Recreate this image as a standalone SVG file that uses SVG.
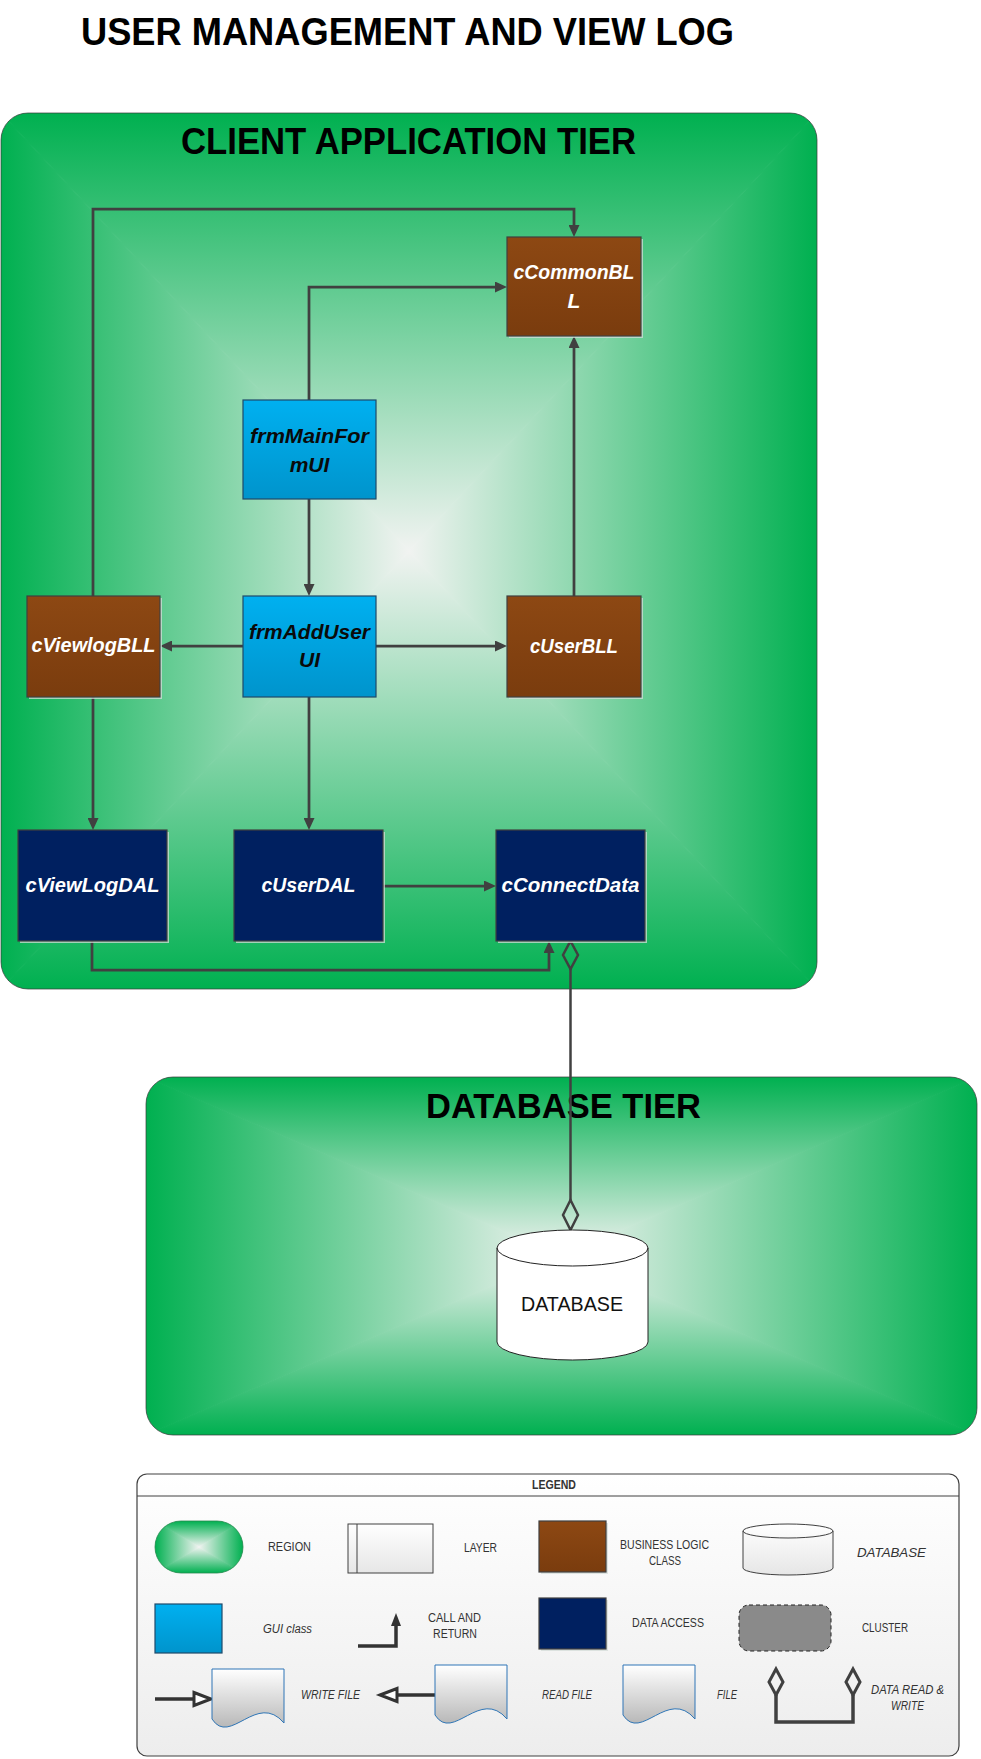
<svg xmlns="http://www.w3.org/2000/svg" xmlns:xlink="http://www.w3.org/1999/xlink" width="981" height="1759" viewBox="0 0 981 1759">
<defs>
<style>
.ttl{font-family:"Liberation Sans",Arial,sans-serif;font-weight:bold;fill:#000}
.nt{font-family:"Liberation Sans",Arial,sans-serif;font-weight:bold;font-style:italic;font-size:21px;text-anchor:middle}
.w{fill:#fff}
.k{fill:#0a0a0a}
.ln{fill:none;stroke:#404040;stroke-width:2.75}
.lg{font-family:"Liberation Sans",Arial,sans-serif;font-size:12px;fill:#333}
.it{font-style:italic}
.bll{fill:url(#gBrown);stroke:#404040;stroke-width:1.2}
.gui{fill:url(#gBlue);stroke:#1f4a6a;stroke-width:1.2}
.dal{fill:#002060;stroke:#404040;stroke-width:1.2}
.shd{fill:#d4dcd8;fill-opacity:0.75}
.file{fill:url(#gFile);stroke:#2e75b6;stroke-width:1}
.tierborder{fill:none;stroke:#3a3a3a;stroke-width:1;stroke-opacity:0.7}
</style>
<linearGradient id="gStops"><stop offset="0" stop-color="#00b050"/><stop offset="1" stop-color="#f1f3f1"/></linearGradient>
<linearGradient id="cT" xlink:href="#gStops" href="#gStops" gradientUnits="userSpaceOnUse" x1="0" y1="113" x2="0" y2="551"/>
<linearGradient id="cB" xlink:href="#gStops" href="#gStops" gradientUnits="userSpaceOnUse" x1="0" y1="989" x2="0" y2="551"/>
<linearGradient id="cL" xlink:href="#gStops" href="#gStops" gradientUnits="userSpaceOnUse" x1="1" y1="0" x2="409" y2="0"/>
<linearGradient id="cR" xlink:href="#gStops" href="#gStops" gradientUnits="userSpaceOnUse" x1="817" y1="0" x2="409" y2="0"/>
<linearGradient id="dT" xlink:href="#gStops" href="#gStops" gradientUnits="userSpaceOnUse" x1="0" y1="1077" x2="0" y2="1256"/>
<linearGradient id="dB" xlink:href="#gStops" href="#gStops" gradientUnits="userSpaceOnUse" x1="0" y1="1435" x2="0" y2="1256"/>
<linearGradient id="dL" xlink:href="#gStops" href="#gStops" gradientUnits="userSpaceOnUse" x1="146" y1="0" x2="561" y2="0"/>
<linearGradient id="dR" xlink:href="#gStops" href="#gStops" gradientUnits="userSpaceOnUse" x1="977" y1="0" x2="561" y2="0"/>
<linearGradient id="rT" xlink:href="#gStops" href="#gStops" gradientUnits="userSpaceOnUse" x1="0" y1="1521" x2="0" y2="1547"/>
<linearGradient id="rB" xlink:href="#gStops" href="#gStops" gradientUnits="userSpaceOnUse" x1="0" y1="1573" x2="0" y2="1547"/>
<linearGradient id="rL" xlink:href="#gStops" href="#gStops" gradientUnits="userSpaceOnUse" x1="155" y1="0" x2="199" y2="0"/>
<linearGradient id="rR" xlink:href="#gStops" href="#gStops" gradientUnits="userSpaceOnUse" x1="243" y1="0" x2="199" y2="0"/>
<linearGradient id="gBrown" x1="0" y1="0" x2="0" y2="1"><stop offset="0" stop-color="#8d4813"/><stop offset="1" stop-color="#7a3c0e"/></linearGradient>
<linearGradient id="gBlue" x1="0" y1="0" x2="0" y2="1"><stop offset="0" stop-color="#00b0f0"/><stop offset="1" stop-color="#0094cc"/></linearGradient>
<linearGradient id="gFile" x1="0" y1="0" x2="0" y2="1"><stop offset="0" stop-color="#ffffff"/><stop offset="1" stop-color="#b8b8b8"/></linearGradient>
<linearGradient id="gLight" x1="0" y1="0" x2="0" y2="1"><stop offset="0" stop-color="#ffffff"/><stop offset="1" stop-color="#e6e6e6"/></linearGradient>
<linearGradient id="gLeg" x1="0" y1="0" x2="0" y2="1"><stop offset="0" stop-color="#ffffff"/><stop offset="1" stop-color="#ededed"/></linearGradient>
<clipPath id="clipC"><rect x="1" y="113" width="816" height="876" rx="27"/></clipPath>
<clipPath id="clipD"><rect x="146" y="1077" width="831" height="358" rx="27"/></clipPath>
<clipPath id="clipR"><rect x="155" y="1521" width="88" height="52" rx="26"/></clipPath>
<marker id="ah" viewBox="0 0 12 11" refX="4" refY="5.5" markerWidth="12" markerHeight="11" markerUnits="userSpaceOnUse" orient="auto"><path d="M0,0 L12,5.5 L0,11 z" fill="#404040"/></marker>
<path id="fileShape" d="M0,0 H72 V54 C45,22 18,78 0,50 Z"/>
</defs>

<rect width="981" height="1759" fill="#ffffff"/>

<text class="ttl" x="81" y="45" font-size="38" textLength="653" lengthAdjust="spacingAndGlyphs">USER MANAGEMENT AND VIEW LOG</text>

<g id="client-tier">
  <g clip-path="url(#clipC)">
    <polygon points="1,113 817,113 409,551" fill="url(#cT)" stroke="url(#cT)" stroke-width="1"/>
    <polygon points="1,989 817,989 409,551" fill="url(#cB)" stroke="url(#cB)" stroke-width="1"/>
    <polygon points="1,113 1,989 409,551" fill="url(#cL)" stroke="url(#cL)" stroke-width="1"/>
    <polygon points="817,113 817,989 409,551" fill="url(#cR)" stroke="url(#cR)" stroke-width="1"/>
  </g>
  <rect class="tierborder" x="1" y="113" width="816" height="876" rx="27"/>
  <text class="ttl" x="181" y="154" font-size="36" textLength="455" lengthAdjust="spacingAndGlyphs">CLIENT APPLICATION TIER</text>
</g>

<g id="database-tier">
  <g clip-path="url(#clipD)">
    <polygon points="146,1077 977,1077 561,1256" fill="url(#dT)" stroke="url(#dT)" stroke-width="1"/>
    <polygon points="146,1435 977,1435 561,1256" fill="url(#dB)" stroke="url(#dB)" stroke-width="1"/>
    <polygon points="146,1077 146,1435 561,1256" fill="url(#dL)" stroke="url(#dL)" stroke-width="1"/>
    <polygon points="977,1077 977,1435 561,1256" fill="url(#dR)" stroke="url(#dR)" stroke-width="1"/>
  </g>
  <rect class="tierborder" x="146" y="1077" width="831" height="358" rx="27"/>
  <text class="ttl" x="426" y="1118" font-size="35" textLength="275" lengthAdjust="spacingAndGlyphs">DATABASE TIER</text>
</g>

<g id="connectors">
  <path class="ln" d="M93,596 V209 H574 V229" marker-end="url(#ah)"/>
  <path class="ln" d="M309,400 V287 H499" marker-end="url(#ah)"/>
  <path class="ln" d="M309,499 V588" marker-end="url(#ah)"/>
  <path class="ln" d="M243,646 H168" marker-end="url(#ah)"/>
  <path class="ln" d="M376,646 H499" marker-end="url(#ah)"/>
  <path class="ln" d="M574,596 V344" marker-end="url(#ah)"/>
  <path class="ln" d="M93,697 V822" marker-end="url(#ah)"/>
  <path class="ln" d="M309,697 V822" marker-end="url(#ah)"/>
  <path class="ln" d="M383,886 H488" marker-end="url(#ah)"/>
  <path class="ln" d="M92,941 V970 H549 V949" marker-end="url(#ah)"/>
  <path d="M570.5,969 V1200" fill="none" stroke="#404040" stroke-width="2.5"/>
  <polygon points="570.5,941 578,955 570.5,969 563,955" fill="none" stroke="#404040" stroke-width="2.5"/>
  <polygon points="570.5,1200 578,1215 570.5,1230 563,1215" fill="none" stroke="#404040" stroke-width="2.5"/>
</g>

<g id="cCommonBLL">
  <rect class="shd" x="509" y="239" width="134" height="99"/>
  <rect class="bll" x="507" y="237" width="134" height="99"/>
  <text class="nt w" x="574" y="279" textLength="121" lengthAdjust="spacingAndGlyphs">cCommonBL</text>
  <text class="nt w" x="574" y="308">L</text>
</g>
<g id="frmMainFormUI">
  <rect class="gui" x="243" y="400" width="133" height="99"/>
  <text class="nt k" x="309.5" y="443" textLength="119" lengthAdjust="spacingAndGlyphs">frmMainFor</text>
  <text class="nt k" x="309.5" y="472">mUI</text>
</g>
<g id="cViewlogBLL">
  <rect class="shd" x="29" y="598" width="133" height="101"/>
  <rect class="bll" x="27" y="596" width="133" height="101"/>
  <text class="nt w" x="93.5" y="652" textLength="124" lengthAdjust="spacingAndGlyphs">cViewlogBLL</text>
</g>
<g id="frmAddUserUI">
  <rect class="gui" x="243" y="596" width="133" height="101"/>
  <text class="nt k" x="309.5" y="639" textLength="121" lengthAdjust="spacingAndGlyphs">frmAddUser</text>
  <text class="nt k" x="309.5" y="667">UI</text>
</g>
<g id="cUserBLL">
  <rect class="shd" x="509" y="598" width="134" height="101"/>
  <rect class="bll" x="507" y="596" width="134" height="101"/>
  <text class="nt w" x="574" y="653" textLength="88" lengthAdjust="spacingAndGlyphs">cUserBLL</text>
</g>
<g id="cViewLogDAL">
  <rect class="shd" x="20" y="832" width="149" height="111"/>
  <rect class="dal" x="18" y="830" width="149" height="111"/>
  <text class="nt w" x="92.5" y="892" textLength="134" lengthAdjust="spacingAndGlyphs">cViewLogDAL</text>
</g>
<g id="cUserDAL">
  <rect class="shd" x="236" y="832" width="149" height="111"/>
  <rect class="dal" x="234" y="830" width="149" height="111"/>
  <text class="nt w" x="308.5" y="892" textLength="94" lengthAdjust="spacingAndGlyphs">cUserDAL</text>
</g>
<g id="cConnectData">
  <rect class="shd" x="498" y="832" width="149" height="111"/>
  <rect class="dal" x="496" y="830" width="149" height="111"/>
  <text class="nt w" x="570.5" y="892" textLength="138" lengthAdjust="spacingAndGlyphs">cConnectData</text>
</g>

<g id="database">
  <path d="M497,1248 A75.5,18 0 0 1 648,1248 V1342 A75.5,18 0 0 1 497,1342 Z" fill="#ffffff" stroke="#222" stroke-width="1"/>
  <path d="M497,1248 A75.5,18 0 0 0 648,1248" fill="none" stroke="#222" stroke-width="1"/>
  <text x="521" y="1311" font-family="Liberation Sans, Arial, sans-serif" font-size="20" fill="#111" textLength="102" lengthAdjust="spacingAndGlyphs">DATABASE</text>
</g>

<g id="legend">
  <rect x="137" y="1474" width="822" height="282" rx="10" fill="url(#gLeg)" stroke="#404040" stroke-width="1.2"/>
  <path d="M137,1496 H959" stroke="#404040" stroke-width="1"/>
  <text class="lg" x="532" y="1489" font-size="11" font-weight="bold" fill="#222" textLength="44" lengthAdjust="spacingAndGlyphs">LEGEND</text>

  <g id="lg-region">
    <g clip-path="url(#clipR)">
      <polygon points="155,1521 243,1521 199,1547" fill="url(#rT)" stroke="url(#rT)" stroke-width="1"/>
      <polygon points="155,1573 243,1573 199,1547" fill="url(#rB)" stroke="url(#rB)" stroke-width="1"/>
      <polygon points="155,1521 155,1573 199,1547" fill="url(#rL)" stroke="url(#rL)" stroke-width="1"/>
      <polygon points="243,1521 243,1573 199,1547" fill="url(#rR)" stroke="url(#rR)" stroke-width="1"/>
    </g>
    <rect x="155" y="1521" width="88" height="52" rx="26" fill="none" stroke="#2a8a50" stroke-width="0.8"/>
    <text class="lg" x="268" y="1551" textLength="43" lengthAdjust="spacingAndGlyphs">REGION</text>
  </g>
  <g id="lg-layer">
    <rect x="348" y="1524" width="85" height="49" fill="url(#gLight)" stroke="#404040" stroke-width="1"/>
    <path d="M357,1524 V1573" stroke="#404040" stroke-width="1"/>
    <text class="lg" x="464" y="1552" textLength="33" lengthAdjust="spacingAndGlyphs">LAYER</text>
  </g>
  <g id="lg-bll">
    <rect class="shd" x="541" y="1523" width="67" height="51"/>
    <rect class="bll" x="539" y="1521" width="67" height="51"/>
    <text class="lg" x="620" y="1549" textLength="89" lengthAdjust="spacingAndGlyphs">BUSINESS LOGIC</text>
    <text class="lg" x="649" y="1565" textLength="32" lengthAdjust="spacingAndGlyphs">CLASS</text>
  </g>
  <g id="lg-database">
    <path d="M743,1531 A45,7 0 0 1 833,1531 V1568 A45,7 0 0 1 743,1568 Z" fill="url(#gLight)" stroke="#404040" stroke-width="1"/>
    <path d="M743,1531 A45,7 0 0 0 833,1531" fill="none" stroke="#404040" stroke-width="1"/>
    <text class="lg it" x="857" y="1557" font-size="14.5" textLength="69" lengthAdjust="spacingAndGlyphs">DATABASE</text>
  </g>
  <g id="lg-gui">
    <rect class="gui" x="155" y="1604" width="67" height="49"/>
    <text class="lg it" x="263" y="1633" textLength="49" lengthAdjust="spacingAndGlyphs">GUI class</text>
  </g>
  <g id="lg-call">
    <path d="M358,1646 H396 V1624" fill="none" stroke="#333" stroke-width="3.5"/>
    <polygon points="396,1613 401,1626 391,1626" fill="#333"/>
    <text class="lg" x="428" y="1622" textLength="53" lengthAdjust="spacingAndGlyphs">CALL AND</text>
    <text class="lg" x="433" y="1638" textLength="44" lengthAdjust="spacingAndGlyphs">RETURN</text>
  </g>
  <g id="lg-dal">
    <rect class="shd" x="541" y="1600" width="67" height="51"/>
    <rect class="dal" x="539" y="1598" width="67" height="51"/>
    <text class="lg" x="632" y="1627" textLength="72" lengthAdjust="spacingAndGlyphs">DATA ACCESS</text>
  </g>
  <g id="lg-cluster">
    <rect x="739" y="1605" width="92" height="46" rx="10" fill="#8a8a8a" stroke="#222" stroke-width="1" stroke-dasharray="4,3"/>
    <text class="lg" x="862" y="1632" textLength="46" lengthAdjust="spacingAndGlyphs">CLUSTER</text>
  </g>
  <g id="lg-writefile">
    <path d="M155,1699 H194" stroke="#333" stroke-width="3.5"/>
    <polygon points="194,1692.5 211,1699 194,1705.5" fill="#fff" stroke="#333" stroke-width="3"/>
    <use href="#fileShape" xlink:href="#fileShape" x="212" y="1669" class="file"/>
    <text class="lg it" x="301" y="1699" textLength="59" lengthAdjust="spacingAndGlyphs">WRITE FILE</text>
  </g>
  <g id="lg-readfile">
    <polygon points="380,1695 397,1688.5 397,1701.5" fill="#fff" stroke="#333" stroke-width="3"/>
    <path d="M397,1695 H435" stroke="#333" stroke-width="3.5"/>
    <use href="#fileShape" xlink:href="#fileShape" x="435" y="1665" class="file"/>
    <text class="lg it" x="542" y="1699" textLength="50" lengthAdjust="spacingAndGlyphs">READ FILE</text>
  </g>
  <g id="lg-file">
    <use href="#fileShape" xlink:href="#fileShape" x="623" y="1665" class="file"/>
    <text class="lg it" x="717" y="1699" textLength="20" lengthAdjust="spacingAndGlyphs">FILE</text>
  </g>
  <g id="lg-readwrite">
    <path d="M776,1695 V1722 H853 V1695" fill="none" stroke="#404040" stroke-width="3.5"/>
    <polygon points="776,1669 783,1682 776,1695 769,1682" fill="none" stroke="#404040" stroke-width="3"/>
    <polygon points="853,1669 860,1682 853,1695 846,1682" fill="none" stroke="#404040" stroke-width="3"/>
    <text class="lg it" x="871" y="1694" textLength="73" lengthAdjust="spacingAndGlyphs">DATA READ &amp;</text>
    <text class="lg it" x="891" y="1710" textLength="33" lengthAdjust="spacingAndGlyphs">WRITE</text>
  </g>
</g>
</svg>
